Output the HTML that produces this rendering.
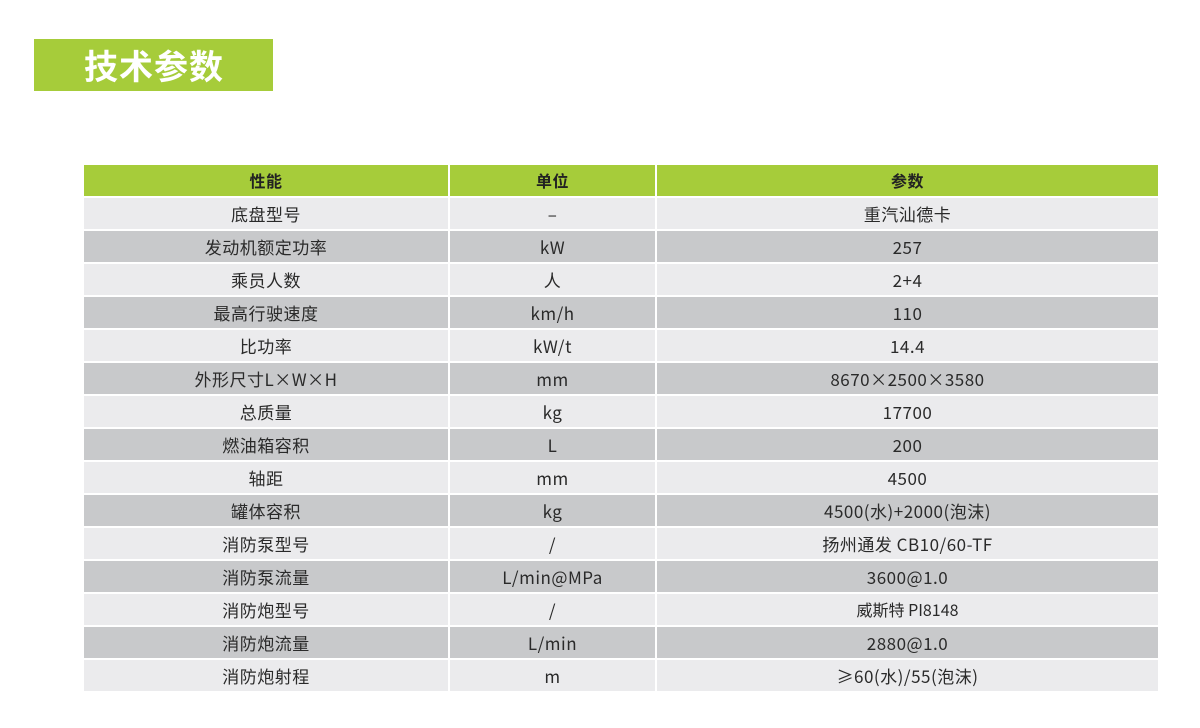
<!DOCTYPE html>
<html><head><meta charset="utf-8"><style>
body{margin:0;width:1200px;height:728px;background:#fff;position:relative;overflow:hidden;font-family:"Noto Sans CJK SC","Liberation Sans",sans-serif;}
.title{position:absolute;left:34px;top:39px;width:239px;height:52px;background:#a6cc3a;color:#fff;font-weight:bold;font-size:34px;line-height:52px;padding-left:50px;box-sizing:border-box;letter-spacing:1px;}
.row{position:absolute;left:84px;height:31px;width:1074px;}
.c{position:absolute;top:0;height:31px;line-height:31px;text-align:center;font-size:17px;color:#2a2a2a;letter-spacing:0.5px}
.c1{left:0;width:364px}.c2{left:366px;width:205px}.c3{left:573px;width:501px}
.h .c{background:#a6cc3a;font-weight:bold;color:#222;font-size:16px}
.l .c{background:#ebebed}.d .c{background:#c8c9cb}
</style></head><body>
<div class="title">技术参数</div>
<div class="row h" style="top:165px"><div class="c c1">性能</div><div class="c c2">单位</div><div class="c c3">参数</div></div>
<div class="row l" style="top:198px"><div class="c c1">底盘型号</div><div class="c c2">–</div><div class="c c3">重汽汕德卡</div></div>
<div class="row d" style="top:231px"><div class="c c1">发动机额定功率</div><div class="c c2">kW</div><div class="c c3">257</div></div>
<div class="row l" style="top:264px"><div class="c c1">乘员人数</div><div class="c c2">人</div><div class="c c3">2+4</div></div>
<div class="row d" style="top:297px"><div class="c c1">最高行驶速度</div><div class="c c2">km/h</div><div class="c c3">110</div></div>
<div class="row l" style="top:330px"><div class="c c1">比功率</div><div class="c c2">kW/t</div><div class="c c3">14.4</div></div>
<div class="row d" style="top:363px"><div class="c c1">外形尺寸L×W×H</div><div class="c c2">mm</div><div class="c c3">8670×2500×3580</div></div>
<div class="row l" style="top:396px"><div class="c c1">总质量</div><div class="c c2">kg</div><div class="c c3">17700</div></div>
<div class="row d" style="top:429px"><div class="c c1">燃油箱容积</div><div class="c c2">L</div><div class="c c3">200</div></div>
<div class="row l" style="top:462px"><div class="c c1">轴距</div><div class="c c2">mm</div><div class="c c3">4500</div></div>
<div class="row d" style="top:495px"><div class="c c1">罐体容积</div><div class="c c2">kg</div><div class="c c3">4500(水)+2000(泡沫)</div></div>
<div class="row l" style="top:528px"><div class="c c1">消防泵型号</div><div class="c c2">/</div><div class="c c3">扬州通发 CB10/60-TF</div></div>
<div class="row d" style="top:561px"><div class="c c1">消防泵流量</div><div class="c c2">L/min@MPa</div><div class="c c3">3600@1.0</div></div>
<div class="row l" style="top:594px"><div class="c c1">消防炮型号</div><div class="c c2">/</div><div class="c c3" style="font-size:16px;letter-spacing:0">威斯特 PI8148</div></div>
<div class="row d" style="top:627px"><div class="c c1">消防炮流量</div><div class="c c2">L/min</div><div class="c c3">2880@1.0</div></div>
<div class="row l" style="top:660px"><div class="c c1">消防炮射程</div><div class="c c2">m</div><div class="c c3">≥60(水)/55(泡沫)</div></div>
</body></html>
